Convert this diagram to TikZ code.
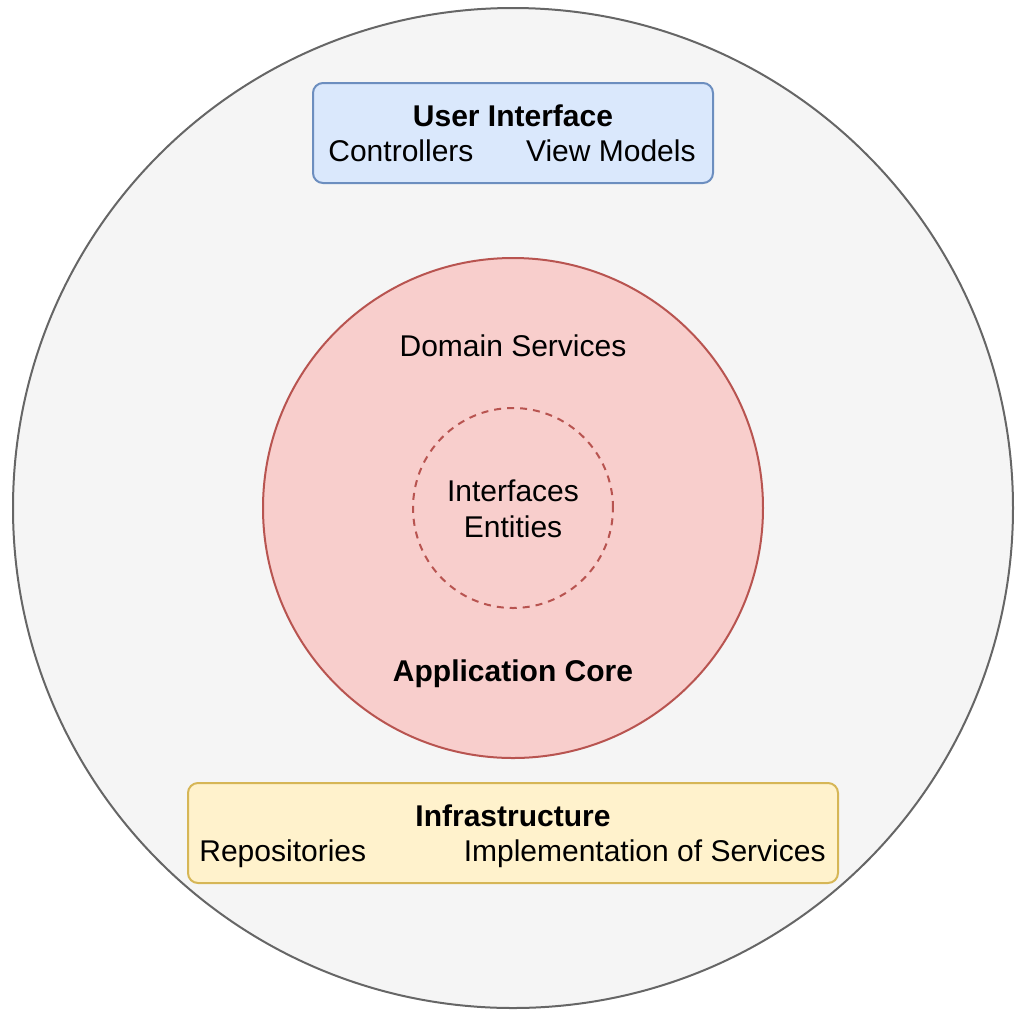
\documentclass[tikz,border=0pt]{standalone}
\usepackage{fontspec}
\setmainfont{Liberation Sans}
\usepackage{xcolor}
\usetikzlibrary{positioning}
\definecolor{ringfill}{HTML}{F5F5F5}
\definecolor{ringline}{HTML}{666666}
\definecolor{corefill}{HTML}{F8CECC}
\definecolor{coreline}{HTML}{B85450}
\definecolor{uifill}{HTML}{DAE8FC}
\definecolor{uiline}{HTML}{6C8EBF}
\definecolor{infrafill}{HTML}{FFF2CC}
\definecolor{infraline}{HTML}{D6B656}
\tikzset{
  ring/.style     = {circle, draw=ringline, fill=ringfill, line width=1pt,
                     minimum size=500pt, inner sep=0pt},
  core/.style     = {circle, draw=coreline, fill=corefill, line width=1pt,
                     minimum size=250pt, inner sep=0pt},
  kernel/.style   = {circle, draw=coreline, dash pattern=on 3.5pt off 3pt,
                     line width=1pt, minimum size=100pt, inner sep=0pt},
  layerbox/.style = {rectangle, rounded corners=5pt, line width=1pt,
                     minimum height=50pt, inner sep=0pt},
  title/.style    = {font=\fontsize{15}{18}\selectfont\bfseries, anchor=base, inner sep=0pt},
  label/.style    = {font=\fontsize{15}{18}\selectfont, inner sep=0pt}
}
\begin{document}
\begin{tikzpicture}[x=0.5pt, y=-0.5pt]
  \useasboundingbox (0,0) rectangle (1030,1025);
  % rings
  \node[ring]   (outer)  at (513,508) {};
  \node[core]   (appcore) at (513,508) {};
  \node[kernel] (inner)  at (513,508) {};
  % layer boxes
  \node[layerbox, draw=uiline, fill=uifill, minimum width=200pt]     (ui)    at (513,133) {};
  \node[layerbox, draw=infraline, fill=infrafill, minimum width=325pt] (infra) at (513,833) {};
  % texts
  \node[title] (uititle) at (513,126) {User Interface};
  \node[label, anchor=base west] (ctrl)  at (328,161) {Controllers};
  \node[label, anchor=base east] (vm)    at (696,161) {View Models};
  \node[label, anchor=base] (domsvc) at (513,356) {Domain Services};
  \node[label, anchor=base, align=center] (ifent) at (513,537) {Interfaces\\Entities};
  \node[title] (coretitle) at (513,681) {Application Core};
  \node[title] (infratitle) at (513,826) {Infrastructure};
  \node[label, anchor=base west] (repo)  at (199,861) {Repositories};
  \node[label, anchor=base east] (impl)  at (826,861) {Implementation of Services};
\end{tikzpicture}
\end{document}
